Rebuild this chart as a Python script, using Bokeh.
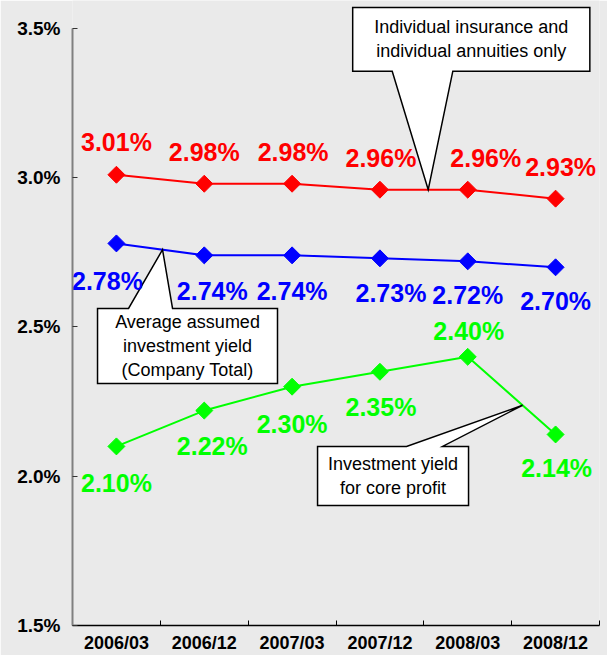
import numpy as np
from bokeh.plotting import figure
from bokeh.models import Range1d, FixedTicker, ColumnDataSource
from bokeh.core.properties import value
from bokeh.embed import file_html
from bokeh.resources import INLINE

# ---------------- data ----------------
categories = ["2006/03", "2006/12", "2007/03", "2007/12", "2008/03", "2008/12"]
individual = [3.01, 2.98, 2.98, 2.96, 2.96, 2.93]        # red
company_total = [2.78, 2.74, 2.74, 2.73, 2.72, 2.70]     # blue
core_profit = [2.10, 2.22, 2.30, 2.35, 2.40, 2.14]       # green
y_ticks = [1.5, 2.0, 2.5, 3.0, 3.5]
y_tick_labels = ["1.5%", "2.0%", "2.5%", "3.0%", "3.5%"]

# label pixel offsets (layout only)
red_dx = [0, 0, 1, 1, 18, 5]
red_dy = [-33, -32, -32, -32, -32, -32]
blue_dx = [-9, 8, 0, 11, 0, 0]
blue_dy = [38, 36, 36, 35, 34, 34]
green_dx = [0, 8, 0, 1, 1, 1]
green_dy = [37, 35, 37, 35, -26, 34]

BG = "#eaeaea"
FONT = "Liberation Sans"

x = [i + 0.5 for i in range(len(categories))]

p = figure(width=607, height=655, output_backend="svg", toolbar_location=None,
           x_range=Range1d(0, 6), y_range=Range1d(1.5, 3.5938),
           min_border_left=72, min_border_right=8, min_border_top=0,
           min_border_bottom=30,
           background_fill_color=BG, border_fill_color=BG,
           outline_line_color=None)
p.xgrid.visible = False
p.ygrid.visible = False

# y axis
ya = p.yaxis[0]
ya.ticker = FixedTicker(ticks=y_ticks, minor_ticks=[])
ya.major_label_overrides = {t: l for t, l in zip(y_ticks, y_tick_labels)}
ya.bounds = (1.5, 3.5)
ya.axis_line_color = "#808080"
ya.axis_line_width = 2
ya.major_tick_in = 5
ya.major_tick_out = 0
ya.major_tick_line_color = "#333333"
ya.minor_tick_line_color = None
ya.major_label_standoff = 12
ya.major_label_text_font = FONT
ya.major_label_text_font_style = "bold"
ya.major_label_text_font_size = "19px"
ya.major_label_text_color = "black"

# x axis
xa = p.xaxis[0]
xa.ticker = FixedTicker(ticks=x, minor_ticks=list(range(len(categories) + 1)))
xa.major_label_overrides = {xi: c for xi, c in zip(x, categories)}
xa.bounds = (0, 6)
xa.axis_line_color = "black"
xa.axis_line_width = 1.5
xa.major_tick_line_color = None
xa.major_tick_in = 0
xa.major_tick_out = 0
xa.minor_tick_in = 5
xa.minor_tick_out = 0
xa.minor_tick_line_color = "black"
xa.minor_tick_line_width = 1
xa.major_label_standoff = 7
xa.major_label_text_font = FONT
xa.major_label_text_font_style = "bold"
xa.major_label_text_font_size = "18px"
xa.major_label_text_color = "black"

series = [
    (individual, "#ff0000", red_dx, red_dy),
    (company_total, "#0000ff", blue_dx, blue_dy),
    (core_profit, "#00ff00", green_dx, green_dy),
]

sources = []
for vals, color, dx, dy in series:
    src = ColumnDataSource(dict(x=x, y=vals,
                                label=["%.2f%%" % v for v in vals],
                                dx=dx, dy=dy))
    sources.append((src, color))
    p.line("x", "y", source=src, line_color=color, line_width=2)
    p.scatter("x", "y", source=src, marker="square", size=12,
              angle=np.pi / 4, fill_color=color, line_color=color)

# callouts: text, box x0, x1, y0, y1, pointer base x0, x1, tip x, series, side
callouts = [
    ("Individual insurance and\nindividual annuities only",
     3.19, 5.89, 3.357, 3.570, 3.64, 4.33, 4.05, individual, "bottom"),
    ("Average assumed\ninvestment yield\n(Company Total)",
     0.285, 2.334, 2.311, 2.562, 0.638, 1.139, 1.025, company_total, "top"),
    ("Investment yield\nfor core profit",
     2.79, 4.509, 1.902, 2.100, 3.803, 4.213, 5.124, core_profit, "top"),
]

for text, x0, x1, y0, y1, b0, b1, tx, vals, side in callouts:
    ty = float(np.interp(tx, x, vals))
    if side == "bottom":
        xs = [x0, x1, x1, b1, tx, b0, x0]
        ys = [y1, y1, y0, y0, ty, y0, y0]
    else:
        xs = [x0, b0, tx, b1, x1, x1, x0]
        ys = [y1, y1, ty, y1, y1, y0, y0]
    p.patch(xs, ys, fill_color="white", line_color="black", line_width=1.5,
            line_join="miter")
    p.text(x=[(x0 + x1) / 2], y=[(y0 + y1) / 2], text=[text],
           text_font=value(FONT), text_font_size="18px", text_color="black",
           text_align="center", text_baseline="middle", text_line_height=1.2)

for src, color in sources:
    p.text("x", "y", text="label", source=src, x_offset="dx", y_offset="dy",
           text_font=value(FONT), text_font_style="bold", text_font_size="25px",
           text_color=color, text_align="center", text_baseline="middle")

open("out.html", "w").write(file_html(p, INLINE))
